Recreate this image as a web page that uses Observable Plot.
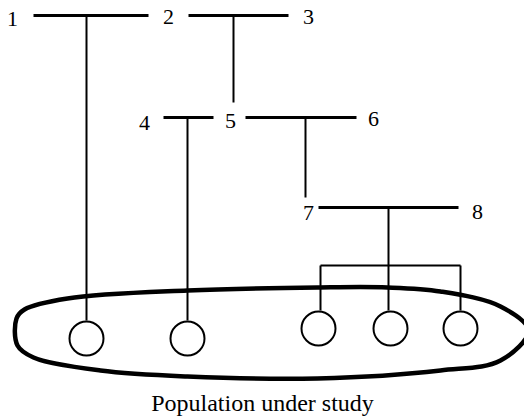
<!DOCTYPE html>
<html><head><meta charset="utf-8">
<script src="https://cdn.jsdelivr.net/npm/d3@7"></script>
<script src="https://cdn.jsdelivr.net/npm/@observablehq/plot@0.6"></script>
<style>body{margin:0;background:#fff}</style>
</head><body><div id="chart"></div>
<script>
// Node labels
const labels = ["1","2","3","4","5","6","7","8"];
const labelX = [12, 168, 308, 144, 230, 373, 308, 477];
const labelY = [18, 16, 16, 122, 120, 118, 212, 211];

// Mating lines (horizontal)
const mateX1 = [33, 188, 163, 245, 318];
const mateX2 = [148, 288, 213, 356, 458];
const mateY  = [15, 15, 117, 117, 207];

// Descent lines
const descX1 = [86, 233, 187, 305, 388, 320, 320, 388, 460];
const descY1 = [15, 15, 117, 117, 207, 265, 265, 265, 265];
const descX2 = [86, 233, 187, 305, 388, 460, 320, 388, 460];
const descY2 = [320, 102, 320, 197, 265, 265, 310, 310, 310];

// Sampled individuals (circles)
const indX = [86, 187, 318, 390, 460];
const indY = [338, 338, 328, 328, 328];

// Population outline
const popX = [16, 24, 67, 187, 317, 387, 440, 500, 528, 500, 440, 317, 187, 100, 33, 17];
const popY = [318, 309, 298, 290, 287, 287, 291, 306, 330, 360, 370, 378, 376, 370, 357, 345];

const caption = "Population under study";

const mates = mateX1.map((x, i) => ({x1: x, x2: mateX2[i], y: mateY[i]}));
const desc = descX1.map((x, i) => ({x1: x, y1: descY1[i], x2: descX2[i], y2: descY2[i]}));
const inds = indX.map((x, i) => ({x, y: indY[i]}));
const pop = popX.map((x, i) => ({x, y: popY[i]}));
const labs = labels.map((t, i) => ({t, x: labelX[i], y: labelY[i]}));

const serif = "'Liberation Serif', Tinos, 'Times New Roman', Times, 'DejaVu Serif', serif";
const chart = Plot.plot({
  width: 524, height: 418,
  margin: 0,
  x: {domain: [0, 524], range: [0, 524], axis: null},
  y: {domain: [0, 418], range: [0, 418], axis: null},
  style: {fontFamily: serif, background: "#fff", overflow: "hidden"},
  marks: [
    Plot.line(pop, {x: "x", y: "y", curve: "catmull-rom-closed", stroke: "#000", strokeWidth: 4.5}),
    Plot.link(mates, {x1: "x1", x2: "x2", y1: "y", y2: "y", stroke: "#000", strokeWidth: 3}),
    Plot.link(desc, {x1: "x1", y1: "y1", x2: "x2", y2: "y2", stroke: "#000", strokeWidth: 2}),
    Plot.dot(inds, {x: "x", y: "y", r: 17, stroke: "#000", strokeWidth: 2, fill: "none"}),
    Plot.text(labs, {x: "x", y: "y", text: "t", fontSize: 22, fontFamily: serif, fill: "#000", textAnchor: "middle"}),
    Plot.text([caption], {x: [262], y: [403], text: d => d, fontSize: 24, fontFamily: serif, fill: "#000", textAnchor: "middle"})
  ]
});
document.getElementById("chart").appendChild(chart);
</script>
</body></html>
